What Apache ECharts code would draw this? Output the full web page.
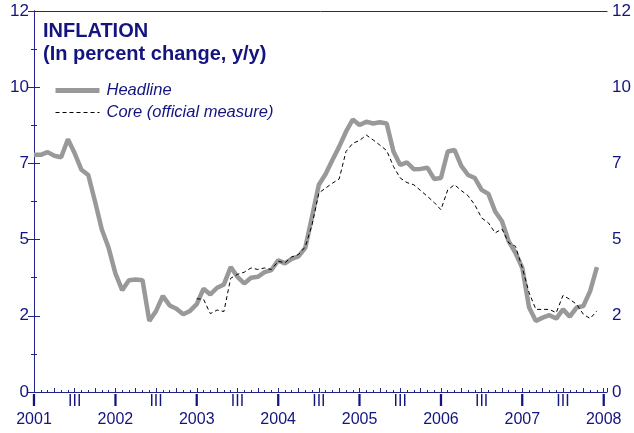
<!DOCTYPE html>
<html>
<head>
<meta charset="utf-8">
<script src="https://cdn.jsdelivr.net/npm/echarts@6/dist/echarts.min.js"></script>
<style>
html, body { margin: 0; padding: 0; background: #fff; }
#chart { width: 634px; height: 433px; }
</style>
</head>
<body>
<div id="chart"></div>
<script>
// monthly data, month 0 = Jan 2001
const startYear = 2001;
const yTicks = [0, 2.5, 5, 7.5, 10, 12.5];
const yearMonths = [0, 12, 24, 36, 48, 60, 72, 84];

const headline = [
    7.78, 7.78, 7.87, 7.75, 7.70, 8.29, 7.83, 7.29, 7.12, 6.25, 5.33, 4.73,
    3.89, 3.34, 3.67, 3.69, 3.67, 2.33, 2.66, 3.15, 2.84, 2.73, 2.55, 2.66,
    2.88, 3.39, 3.20, 3.42, 3.53, 4.10, 3.78, 3.56, 3.75, 3.78, 3.93, 4.00,
    4.32, 4.22, 4.37, 4.45, 4.73, 5.76, 6.80, 7.15, 7.61, 8.05, 8.54, 8.94,
    8.76, 8.87, 8.81, 8.85, 8.81, 7.89, 7.45, 7.53, 7.31, 7.32, 7.36, 6.99,
    7.02, 7.89, 7.94, 7.42, 7.12, 7.02, 6.63, 6.50, 5.92, 5.60, 4.94, 4.56,
    4.07, 2.77, 2.33, 2.44, 2.52, 2.41, 2.71, 2.47, 2.77, 2.82, 3.31, 4.10
];

// core series begins Jan 2003
const coreStart = 24;
const core = [
    3.06, 3.04, 2.57, 2.69, 2.64, 3.73, 3.86, 3.93, 4.07, 4.02, 4.07, 4.02,
    4.29, 4.24, 4.43, 4.51, 4.76, 5.49, 6.53, 6.69, 6.85, 6.99, 7.89, 8.16,
    8.25, 8.43, 8.27, 8.10, 7.92, 7.40, 7.02, 6.87, 6.80, 6.61, 6.42, 6.22,
    5.98, 6.63, 6.80, 6.61, 6.44, 6.14, 5.71, 5.55, 5.22, 5.35, 4.89, 4.78,
    4.07, 3.26, 2.71, 2.71, 2.71, 2.60, 3.17, 3.04, 2.88, 2.55, 2.41, 2.66
];

const navy = '#14147f';
const axisColor = '#23238c';
const font = "'Liberation Sans', Arial, sans-serif";

const headlineData = headline.map((v, i) => [i, v]);
const coreData = core.map((v, i) => [coreStart + i, v]);

const yAxisBase = (pos) => ({
    type: 'value',
    position: pos,
    min: yTicks[0],
    max: yTicks[yTicks.length - 1],
    interval: yTicks[1] - yTicks[0],
    axisLine: { show: true, lineStyle: { color: axisColor, width: 1 } },
    axisTick: { show: true, inside: true, length: 6, lineStyle: { color: axisColor } },
    minorTick: { show: true, splitNumber: 2, length: 3, lineStyle: { color: axisColor } },
    splitLine: { show: false },
    axisLabel: {
        color: navy, fontSize: 17, fontFamily: font, margin: 5,
        formatter: v => String(Math.floor(v))
    }
});

const chart = echarts.init(document.getElementById('chart'));
chart.setOption({
    animation: false,
    backgroundColor: '#fff',
    title: {
        text: 'INFLATION\n(In percent change, y/y)',
        left: 43, top: 20, padding: 0,
        textStyle: { color: navy, fontSize: 20, fontWeight: 'bold', fontFamily: font, lineHeight: 23 }
    },
    legend: {
        orient: 'vertical',
        left: 53, top: 82, padding: 0,
        itemWidth: 44, itemHeight: 14, itemGap: 5,
        data: [
            { name: 'Headline', lineStyle: { width: 5, color: '#999999' } },
            { name: 'Core (official measure)', lineStyle: { width: 1, color: '#000000', type: [4, 3] } }
        ],
        itemStyle: { opacity: 0 },
        textStyle: { color: navy, fontSize: 16.5, fontStyle: 'italic', fontFamily: font, padding: [0, 0, 0, 2] }
    },
    grid: { left: 34, right: 24, top: 11, bottom: 41 },
    xAxis: [{
        type: 'value',
        min: 0, max: 84.5, interval: 3,
        axisLine: { show: true, onZero: false, lineStyle: { color: axisColor } },
        axisTick: { show: true, inside: true, length: 4, lineStyle: { color: axisColor } },
        minorTick: { show: true, splitNumber: 3, length: 2, lineStyle: { color: axisColor } },
        splitLine: { show: false },
        axisLabel: {
            color: navy, fontSize: 16, fontFamily: font, margin: 1, lineHeight: 18,
            formatter: v => (v % 12 === 6 ? 'III' : '')
        }
    }, {
        type: 'value', position: 'bottom',
        min: 0, max: 84.5, interval: 12,
        axisLine: { show: false }, axisTick: { show: false }, splitLine: { show: false },
        axisLabel: {
            color: navy, fontSize: 16, fontFamily: font, margin: 19, lineHeight: 18,
            formatter: v => (v % 12 === 0 ? String(startYear + v / 12) : '')
        }
    }, {
        type: 'value', position: 'top',
        min: 0, max: 84.5,
        axisLine: { show: true, onZero: false, lineStyle: { color: axisColor } },
        axisTick: { show: false }, axisLabel: { show: false }, splitLine: { show: false }
    }],
    yAxis: [yAxisBase('left'), yAxisBase('right')],
    series: [{
        name: 'Headline',
        type: 'line',
        data: headlineData,
        symbol: 'none',
        color: '#999999',
        lineStyle: { color: '#999999', width: 4.5 }
    }, {
        name: 'Core (official measure)',
        type: 'line',
        data: coreData,
        symbol: 'none',
        color: '#000000',
        lineStyle: { color: '#000000', width: 1, type: [4, 3] }
    }]
});

// quarter "I" marks under each year tick, placed through the axis scale
const baseY = chart.convertToPixel({ yAxisIndex: 0 }, 0);
chart.setOption({
    graphic: yearMonths.map(m => ({
        type: 'text',
        z: 100,
        x: chart.convertToPixel({ xAxisIndex: 0 }, m),
        y: baseY + 2,
        style: {
            text: 'I', fill: navy, fontSize: 16, fontWeight: 'bold', fontFamily: font,
            align: 'center', verticalAlign: 'top'
        }
    }))
});
</script>
</body>
</html>
